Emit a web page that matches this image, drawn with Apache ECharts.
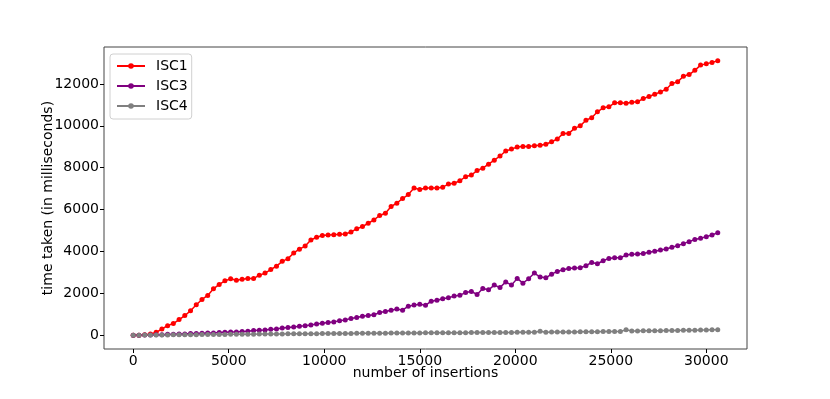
<!DOCTYPE html>
<html>
<head>
<meta charset="utf-8">
<script src="https://cdn.jsdelivr.net/npm/echarts@6/dist/echarts.min.js"></script>
<style>
html, body { margin: 0; padding: 0; background: #fff; }
#chart { width: 830px; height: 399px; }
</style>
</head>
<body>
<div id="chart"></div>
<script>
// insertions go 0, 300, 600 ... 30600
var step = 300;
var xTicks = [0, 5000, 10000, 15000, 20000, 25000, 30000];
var yTicks = [0, 2000, 4000, 6000, 8000, 10000, 12000];

var isc1 = [0, 0, 20, 60, 140, 300, 460, 560, 750, 940,
	1170, 1460, 1710, 1900, 2220, 2430, 2600, 2700, 2630, 2670,
	2710, 2710, 2870, 2970, 3140, 3300, 3530, 3660, 3930, 4110,
	4260, 4550, 4680, 4760, 4790, 4805, 4820, 4840, 4930, 5090,
	5190, 5350, 5510, 5720, 5830, 6150, 6310, 6530, 6720, 7030,
	6960, 7030, 7030, 7030, 7070, 7220, 7260, 7380, 7570, 7650,
	7870, 7980, 8170, 8360, 8560, 8800, 8890, 8990, 9020, 9020,
	9050, 9070, 9120, 9240, 9370, 9630, 9640, 9880, 10000, 10270,
	10390, 10670, 10860, 10910, 11100, 11100, 11080, 11130, 11150, 11300,
	11400, 11510, 11620, 11750, 12020, 12100, 12370, 12450, 12650, 12900,
	12960, 13030, 13110];

var isc3 = [0, 0, 15, 15, 30, 30, 50, 50, 65, 65,
	80, 80, 95, 110, 110, 130, 145, 160, 160, 175,
	190, 225, 240, 255, 290, 305, 350, 370, 400, 430,
	460, 495, 540, 575, 610, 640, 690, 735, 800, 850,
	910, 945, 975, 1090, 1135, 1200, 1260, 1200, 1390, 1440,
	1485, 1430, 1630, 1677, 1740, 1790, 1870, 1916, 2040, 2090,
	1950, 2235, 2170, 2395, 2280, 2550, 2395, 2715, 2490, 2700,
	2970, 2780, 2745, 2920, 3050, 3130, 3190, 3210, 3225, 3320,
	3480, 3415, 3560, 3670, 3700, 3700, 3830, 3865, 3880, 3910,
	3960, 4010, 4070, 4120, 4200, 4280, 4375, 4470, 4570, 4630,
	4710, 4790, 4900];

var isc4 = [0, 5, 8, 10, 12, 15, 18, 20, 22, 25,
	28, 30, 32, 35, 37, 40, 42, 45, 47, 50,
	52, 55, 57, 60, 62, 64, 66, 68, 70, 72,
	74, 76, 78, 80, 82, 84, 86, 88, 90, 92,
	94, 96, 98, 100, 102, 104, 106, 108, 110, 112,
	114, 115, 116, 118, 120, 121, 122, 124, 125, 127,
	128, 130, 131, 133, 134, 136, 137, 139, 140, 142,
	144, 195, 150, 152, 154, 156, 158, 160, 163, 166,
	169, 172, 175, 178, 181, 184, 260, 205, 208, 211,
	214, 217, 220, 224, 228, 232, 236, 240, 245, 250,
	255, 260, 265];

function pairs(vals) {
	var out = [];
	for (var i = 0; i < vals.length; i++) {
		out.push([i * step, vals[i]]);
	}
	return out;
}

var font = 'DejaVu Sans';

function mkSeries(name, vals, color) {
	return {
		name : name,
		type : 'line',
		data : pairs(vals),
		symbol : 'circle',
		symbolSize : 5,
		showSymbol : true,
		lineStyle : { color : color, width : 1.5 },
		itemStyle : { color : color },
		animation : false
	};
}

function plain(v) {
	return String(v);
}

var chart = echarts.init(document.getElementById('chart'));
chart.setOption({
	backgroundColor : '#fff',
	animation : false,
	grid : {
		left : 104, right : 83, top : 47, bottom : 50,
		show : true,
		borderColor : '#444',
		borderWidth : 1
	},
	legend : {
		left : 110, top : 54,
		orient : 'vertical',
		itemWidth : 28,
		itemHeight : 7,
		itemGap : 6,
		padding : [5, 4, 6, 6],
		backgroundColor : '#fff',
		borderColor : '#d0d0d0',
		borderWidth : 1,
		borderRadius : 3,
		textStyle : { fontFamily : font, fontSize : 14, color : '#000', padding : [0, 0, 0, 6] },
		data : ['ISC1', 'ISC3', 'ISC4']
	},
	xAxis : {
		type : 'value',
		min : -1530,
		max : 32130,
		splitLine : { show : false },
		axisLine : { show : false, onZero : false },
		axisTick : { show : true, length : 4, inside : false, customValues : xTicks, lineStyle : { color : '#000' } },
		axisLabel : { customValues : xTicks, formatter : plain, fontFamily : font, fontSize : 14, color : '#000', margin : 5 },
		name : 'number of insertions',
		nameLocation : 'middle',
		nameGap : 17,
		nameMoveOverlap : false,
		nameTextStyle : { fontFamily : font, fontSize : 14, color : '#000' }
	},
	yAxis : {
		type : 'value',
		min : -655,
		max : 13765,
		splitLine : { show : false },
		axisLine : { show : false, onZero : false },
		axisTick : { show : true, length : 4, inside : false, customValues : yTicks, lineStyle : { color : '#000' } },
		axisLabel : { customValues : yTicks, formatter : plain, fontFamily : font, fontSize : 14, color : '#000', margin : 5 },
		name : 'time taken (in milliseconds)',
		nameLocation : 'middle',
		nameGap : 49,
		nameMoveOverlap : false,
		nameTextStyle : { fontFamily : font, fontSize : 14, color : '#000' }
	},
	series : [
		mkSeries('ISC1', isc1, '#ff0000'),
		mkSeries('ISC3', isc3, '#800080'),
		mkSeries('ISC4', isc4, '#808080')
	]
});
</script>
</body>
</html>
